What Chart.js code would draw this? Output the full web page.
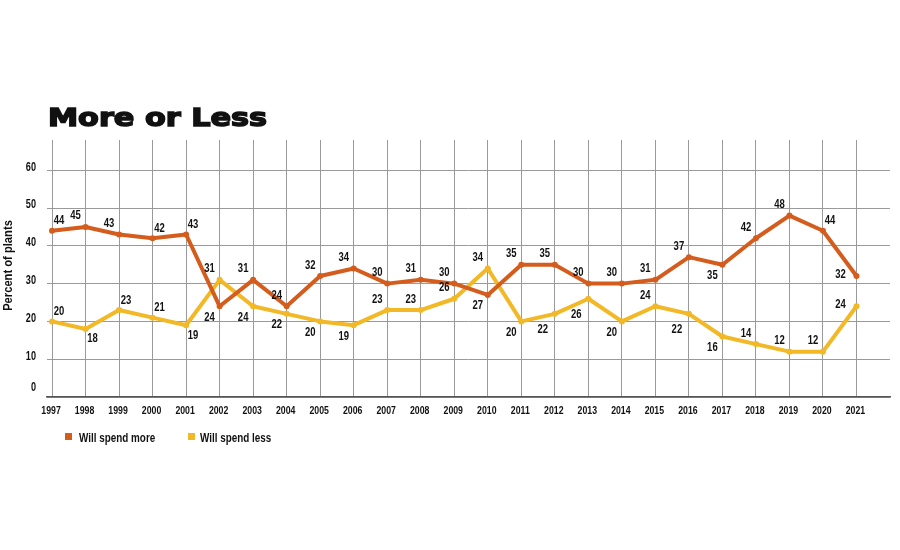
<!DOCTYPE html>
<html><head><meta charset="utf-8">
<script src="https://cdn.jsdelivr.net/npm/chart.js@4"></script>
<style>html,body{margin:0;padding:0;background:#fff}</style>
</head><body>
<canvas id="c" width="900" height="550"></canvas>
<script>
const years = [1997,1998,1999,2000,2001,2002,2003,2004,2005,2006,2007,2008,2009,2010,2011,2012,2013,2014,2015,2016,2017,2018,2019,2020,2021];
const spendMore = [44,45,43,42,43,24,31,24,32,34,30,31,30,27,35,35,30,30,31,37,35,42,48,44,32];
const spendLess = [20,18,23,21,19,31,24,22,20,19,23,23,26,34,20,22,26,20,24,22,16,14,12,12,24];
const yTicks = [0,10,20,30,40,50,60];
const seriesNames = ['Will spend more','Will spend less'];
const chartTitle = 'More or Less';
const yAxisTitle = 'Percent of plants';

const ORANGE = '#d45d1e';
const YELLOW = '#f2b826';
const FAM = "'Liberation Sans',Arial,sans-serif";
const SX = 0.76; // horizontal condensing factor emulating a condensed face

const labelPlacement = [
  {0:'ar',3:'ar',4:'ar',23:'ar',5:'b',13:'b',20:'b',24:'l'},
  {0:'ar',1:'br',2:'ar',3:'ar',4:'br',6:'b',7:'b',8:'b',9:'b',14:'b',15:'b2',16:'b2',17:'b',19:'b2',20:'b',24:'l'}
];
const offsets = {a:[-10,-11], ar:[7,-10], b:[-10,11], b2:[-12,16], br:[7,10], l:[-16,-2]};

function narrowText(ctx, text, x, y, align, sx){
  ctx.save();
  ctx.translate(x, y);
  ctx.scale(sx, 1);
  ctx.textAlign = align;
  ctx.fillText(text, 0, 0);
  ctx.restore();
}

const valueLabels = {
  id:'valueLabels',
  afterDatasetsDraw(chart){
    const ctx = chart.ctx;
    ctx.save();
    ctx.font = "bold 12.5px " + FAM;
    ctx.fillStyle = '#111';
    ctx.textBaseline = 'middle';
    chart.data.datasets.forEach((ds, di) => {
      const meta = chart.getDatasetMeta(di);
      meta.data.forEach((pt, i) => {
        const o = offsets[labelPlacement[di][i] || 'a'];
        narrowText(ctx, String(ds.data[i].y), pt.x + o[0], pt.y + o[1], 'center', SX);
      });
    });
    ctx.restore();
  }
};

const axisText = {
  id:'axisText',
  afterDraw(chart){
    const ctx = chart.ctx;
    const xs = chart.scales.x, ys = chart.scales.y;
    ctx.save();
    ctx.fillStyle = '#111';
    ctx.textBaseline = 'middle';
    ctx.font = "bold 11.5px " + FAM;
    xs.ticks.forEach(t => {
      narrowText(ctx, String(t.value), xs.getPixelForValue(t.value) - 1, xs.top + 14, 'center', SX);
    });
    ctx.font = "bold 12px " + FAM;
    ys.ticks.forEach(t => {
      const py = Math.min(ys.getPixelForValue(t.value) - 3, ys.bottom - 9);
      narrowText(ctx, String(t.value), 36, py, 'right', SX);
    });
    // y axis title
    ctx.save();
    ctx.font = "bold 13px " + FAM;
    ctx.translate(8, (ys.top + ys.bottom) / 2 - 3);
    ctx.rotate(-Math.PI / 2);
    ctx.scale(0.86, 1);
    ctx.textAlign = 'center';
    ctx.fillText(yAxisTitle, 0, 0);
    ctx.restore();
    // title
    ctx.save();
    ctx.font = "bold 25px 'DejaVu Sans',sans-serif";
    ctx.fillStyle = '#111';
    ctx.strokeStyle = '#111';
    ctx.lineWidth = 1.5;
    ctx.textBaseline = 'alphabetic';
    ctx.textAlign = 'left';
    const w = ctx.measureText(chartTitle).width;
    ctx.translate(48, 126);
    ctx.scale(219 / w, 1);
    ctx.fillText(chartTitle, 0, 0);
    ctx.strokeText(chartTitle, 0, 0);
    ctx.restore();
    // legend
    ctx.font = "bold 13px " + FAM;
    const items = [{x:65, tx:79}, {x:188, tx:200}];
    chart.data.datasets.forEach((ds, i) => {
      ctx.fillStyle = ds.borderColor;
      ctx.fillRect(items[i].x, 433, 7, 7);
      ctx.fillStyle = '#111';
      narrowText(ctx, ds.label, items[i].tx, 438, 'left', SX);
    });
    ctx.restore();
  }
};

new Chart(document.getElementById('c'), {
  type:'line',
  data:{
    datasets:[
      {label:seriesNames[0], data:years.map((y,i)=>({x:y, y:spendMore[i]})), borderColor:ORANGE, backgroundColor:ORANGE,
       pointBackgroundColor:ORANGE, pointBorderColor:ORANGE, borderWidth:4, pointRadius:3, pointBorderWidth:0, tension:0, borderJoinStyle:'round', borderCapStyle:'round'},
      {label:seriesNames[1], data:years.map((y,i)=>({x:y, y:spendLess[i]})), borderColor:YELLOW, backgroundColor:YELLOW,
       pointBackgroundColor:YELLOW, pointBorderColor:YELLOW, borderWidth:4, pointRadius:3, pointBorderWidth:0, tension:0, borderJoinStyle:'round', borderCapStyle:'round'}
    ]
  },
  options:{
    responsive:false,
    animation:false,
    devicePixelRatio:1,
    layout:{padding:{top:140, right:10, bottom:123, left:0}},
    plugins:{legend:{display:false}, title:{display:false}, tooltip:{enabled:false}},
    scales:{
      x:{
        type:'linear', min:1996.85, max:2022,
        afterBuildTicks(scale){ scale.ticks = years.map(v=>({value:v})); },
        afterFit(scale){ scale.height = 30; },
        grid:{color:'#9a9a9a', lineWidth:1, drawTicks:false},
        border:{display:true, color:'#555', width:1.5},
        ticks:{display:false}
      },
      y:{
        type:'linear', min:0, max:68,
        afterBuildTicks(scale){ scale.ticks = yTicks.map(v=>({value:v})); },
        afterFit(scale){ scale.width = 47; },
        grid:{color:'#9a9a9a', lineWidth:1, drawTicks:false},
        border:{display:false},
        ticks:{display:false}
      }
    }
  },
  plugins:[valueLabels, axisText]
});
</script>
</body></html>
